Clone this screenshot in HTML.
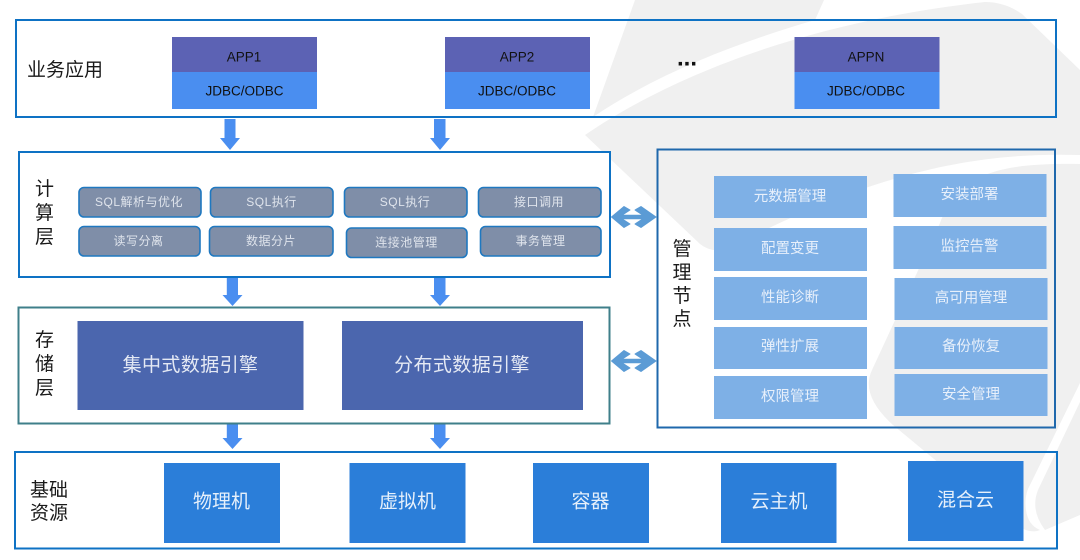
<!DOCTYPE html>
<html lang="zh">
<head>
<meta charset="utf-8">
<style>
html,body{margin:0;padding:0;background:#fff;width:1080px;height:560px;overflow:hidden}
svg{display:block}
text{font-family:"Liberation Sans","Noto Sans CJK SC",sans-serif;text-anchor:middle;dominant-baseline:central;transform:translateY(1px)}
.lbl{font-size:19px;fill:#1a1a1a}
.app{font-size:13.5px;fill:#111}
.chip{fill:#7f8ea8;stroke:#1f78c0;stroke-width:1.6}
.chipt{font-size:12px;fill:#dfe4ec;letter-spacing:.5px}
.mg{fill:#7eb0e6}
.mgt{font-size:14.5px;fill:#e8f0fb}
.eng{fill:#4b66ae}
.engt{font-size:19px;fill:#e4e9f4;letter-spacing:.4px}
.res{fill:#2b7ed9}
.rest{font-size:19px;fill:#e6f0fb}
.arr{fill:#4a8ef0}
.dbl{fill:#5b9bd5;stroke:#5b9bd5;stroke-width:1;stroke-linejoin:round}
</style>
</head>
<body>
<svg width="1080" height="560" viewBox="0 0 1080 560" xmlns="http://www.w3.org/2000/svg">
<rect width="1080" height="560" fill="#fff"/>
<!-- watermark -->
<g fill="#f0f0f0">
<path d="M635,0 L824,0 L815,20 C740,42 660,72 593,117 Z"/>
<path d="M585,135 C680,70 820,20 985,2 Q1005,2 1022,14 L1080,70 L1080,155 C980,152 880,170 735,245 Q715,256 700,244 Z"/>
<path d="M1080,164 C1000,163 960,172 940,223 L872,370 Q860,395 893,425 L1010,522 Q1030,535 1040,530 Q1028,525 1026,510 Q1024,495 1030,485 L1080,383 Z"/>
<path d="M1080,402 L1038,490 Q1030,510 1045,530 L1080,515 Z"/>
</g>

<!-- top layer -->
<rect x="16" y="20" width="1040" height="97" fill="none" stroke="#0e72c4" stroke-width="2"/>
<text class="lbl" x="65" y="69.500">业务应用</text>
<rect x="172" y="37" width="145" height="35" fill="#5c62b4"/>
<rect x="172" y="72" width="145" height="37" fill="#4a8ef0"/>
<text class="app" x="244" y="56">APP1</text>
<text class="app" x="244.500" y="90">JDBC/ODBC</text>
<rect x="445" y="37" width="145" height="35" fill="#5c62b4"/>
<rect x="445" y="72" width="145" height="37" fill="#4a8ef0"/>
<text class="app" x="517" y="56">APP2</text>
<text class="app" x="517" y="90">JDBC/ODBC</text>
<rect x="794.500" y="37" width="145" height="35" fill="#5c62b4"/>
<rect x="794.500" y="72" width="145" height="37" fill="#4a8ef0"/>
<text class="app" x="866" y="56">APPN</text>
<text class="app" x="866" y="90">JDBC/ODBC</text>
<text x="687" y="57" style="font-size:24px;font-weight:bold;fill:#111">...</text>

<!-- arrows -->
<path class="arr" d="M224.500,119H235.500V138H240L230,150L220,138H224.500Z"/>
<path class="arr" d="M434,119H445.500V138H450L440,150L430,138H434Z"/>
<path class="arr" d="M226.800,277H238V295H242.500L232.500,306L222.500,295H226.800Z"/>
<path class="arr" d="M434,277H445.500V295H450L440,306L430,295H434Z"/>
<path class="arr" d="M226.800,424H238V438H242.500L232.500,449L222.500,438H226.800Z"/>
<path class="arr" d="M434,424H445.500V438H450L440,449L430,438H434Z"/>

<!-- compute layer -->
<rect x="19" y="152" width="591" height="125" fill="#fff" stroke="#0e72c4" stroke-width="2"/>
<text class="lbl" x="44.500" y="188.500">计</text>
<text class="lbl" x="44.500" y="212.500">算</text>
<text class="lbl" x="44.500" y="236.500">层</text>
<rect class="chip" x="79" y="187.500" width="122" height="29.500" rx="5"/>
<text class="chipt" x="139" y="201">SQL解析与优化</text>
<rect class="chip" x="210.500" y="187.500" width="122.500" height="29.500" rx="5"/>
<text class="chipt" x="271.500" y="201">SQL执行</text>
<rect class="chip" x="344.500" y="187.500" width="122.500" height="29.500" rx="5"/>
<text class="chipt" x="405" y="201">SQL执行</text>
<rect class="chip" x="478.500" y="187.500" width="122.500" height="29.500" rx="5"/>
<text class="chipt" x="539" y="201">接口调用</text>
<rect class="chip" x="79" y="226.500" width="121" height="29.500" rx="5"/>
<text class="chipt" x="138.500" y="240">读写分离</text>
<rect class="chip" x="209.500" y="226.500" width="123.500" height="29.500" rx="5"/>
<text class="chipt" x="271" y="240">数据分片</text>
<rect class="chip" x="346.500" y="228" width="120.500" height="29.500" rx="5"/>
<text class="chipt" x="406.500" y="241.500">连接池管理</text>
<rect class="chip" x="480.500" y="226.500" width="120.500" height="29.500" rx="5"/>
<text class="chipt" x="540.500" y="240">事务管理</text>

<!-- storage layer -->
<rect x="18.500" y="307.500" width="591" height="116" fill="#fff" stroke="#3f7f8a" stroke-width="2"/>
<text class="lbl" x="44.500" y="339.500">存</text>
<text class="lbl" x="44.500" y="363.500">储</text>
<text class="lbl" x="44.500" y="387.500">层</text>
<rect class="eng" x="77.500" y="321" width="226" height="89"/>
<text class="engt" x="190.500" y="364.500">集中式数据引擎</text>
<rect class="eng" x="342" y="321" width="241" height="89"/>
<text class="engt" x="462" y="364.500">分布式数据引擎</text>

<!-- management -->
<rect x="657.500" y="149.500" width="397.500" height="278" fill="none" stroke="#1f68ac" stroke-width="2"/>
<text class="lbl" x="682" y="248.500">管</text>
<text class="lbl" x="682" y="272">理</text>
<text class="lbl" x="682" y="295.500">节</text>
<text class="lbl" x="682" y="318.500">点</text>
<rect class="mg" x="714" y="176" width="153" height="42"/><text class="mgt" x="790" y="196">元数据管理</text>
<rect class="mg" x="714" y="228" width="153" height="43"/><text class="mgt" x="790" y="248">配置变更</text>
<rect class="mg" x="714" y="277" width="153" height="43"/><text class="mgt" x="790" y="297">性能诊断</text>
<rect class="mg" x="714" y="327" width="153" height="42"/><text class="mgt" x="790" y="346">弹性扩展</text>
<rect class="mg" x="714" y="376" width="153" height="43"/><text class="mgt" x="790" y="396">权限管理</text>
<rect class="mg" x="893.500" y="174" width="153" height="43"/><text class="mgt" x="969.500" y="194">安装部署</text>
<rect class="mg" x="893.500" y="226" width="153" height="43"/><text class="mgt" x="969.500" y="246">监控告警</text>
<rect class="mg" x="894.500" y="278" width="153" height="42"/><text class="mgt" x="971" y="297.500">高可用管理</text>
<rect class="mg" x="894.500" y="327" width="153" height="42"/><text class="mgt" x="971" y="346">备份恢复</text>
<rect class="mg" x="894.500" y="374" width="153" height="42"/><text class="mgt" x="971" y="394">安全管理</text>

<!-- double arrows -->
<path class="dbl" d="M611.500,217 L624,206.500 L630,210 L622,215.200 L643,215.200 L635,210 L641,206.500 L656,217 L641,227.500 L635,224 L643,218.800 L622,218.800 L630,224 L624,227.500 Z"/>
<path class="dbl" d="M611.500,361 L624,350.500 L630,354 L622,359.200 L643,359.200 L635,354 L641,350.500 L656,361 L641,371.500 L635,368 L643,362.800 L622,362.800 L630,368 L624,371.500 Z"/>

<!-- resources -->
<rect x="15" y="452" width="1042" height="96.500" fill="none" stroke="#0e72c4" stroke-width="2"/>
<text class="lbl" x="49" y="489.500">基础</text>
<text class="lbl" x="49" y="512.500">资源</text>
<rect class="res" x="164" y="463" width="116" height="80"/><text class="rest" x="221.500" y="501">物理机</text>
<rect class="res" x="349.500" y="463" width="116" height="80"/><text class="rest" x="407.500" y="501">虚拟机</text>
<rect class="res" x="533" y="463" width="116" height="80"/><text class="rest" x="590.500" y="501">容器</text>
<rect class="res" x="721" y="463" width="115.500" height="80"/><text class="rest" x="779" y="501">云主机</text>
<rect class="res" x="908" y="461" width="115.500" height="80"/><text class="rest" x="965.500" y="499.500">混合云</text>
</svg>
</body>
</html>
